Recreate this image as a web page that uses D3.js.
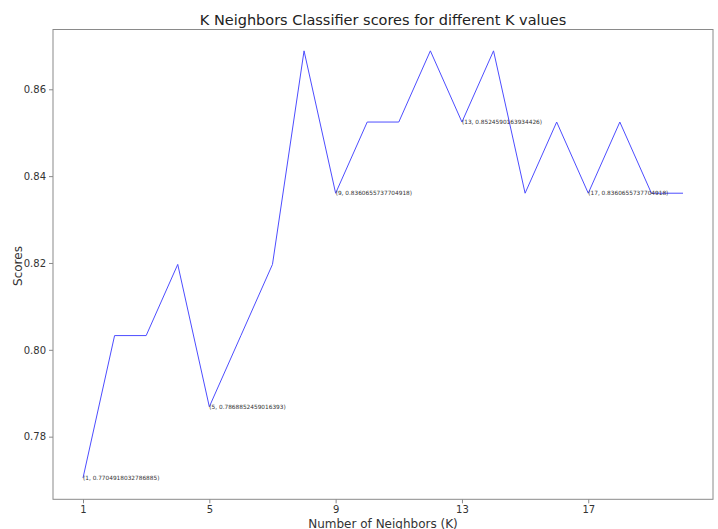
<!DOCTYPE html>
<html>
<head>
<meta charset="utf-8">
<script src="https://cdn.jsdelivr.net/npm/d3@7"></script>
<style>
  body { margin: 0; background: #fff; }
  text { font-family: "DejaVu Sans", sans-serif; }
</style>
</head>
<body>
<div id="chart"></div>
<script>
const kValues = [1, 2, 3, 4, 5, 6, 7, 8, 9, 10, 11, 12, 13, 14, 15, 16, 17, 18, 19, 20];
const scores = [0.7704918032786885, 0.8032786885245902, 0.8032786885245902, 0.819672131147541,
                0.7868852459016393, 0.8032786885245902, 0.819672131147541, 0.8688524590163934,
                0.8360655737704918, 0.8524590163934426, 0.8524590163934426, 0.8688524590163934,
                0.8524590163934426, 0.8688524590163934, 0.8360655737704918, 0.8524590163934426,
                0.8360655737704918, 0.8524590163934426, 0.8360655737704918, 0.8360655737704918];
const xTicks = [1, 5, 9, 13, 17];
const yTicks = [0.78, 0.80, 0.82, 0.84, 0.86];
const labelled = [1, 5, 9, 13, 17];

const width = 718, height = 529;
const margin = {top: 29.5, right: 5, bottom: 29.7, left: 53};

const svg = d3.select("#chart").append("svg")
    .attr("width", width)
    .attr("height", height);

// matplotlib style 5% padding on both axes
const xPad = (d3.max(kValues) - d3.min(kValues)) * 0.05;
const yPad = (d3.max(scores) - d3.min(scores)) * 0.05;

const x = d3.scaleLinear()
    .domain([d3.min(kValues) - xPad, d3.max(kValues) + xPad])
    .range([margin.left, width - margin.right]);

const y = d3.scaleLinear()
    .domain([d3.min(scores) - yPad, d3.max(scores) + yPad])
    .range([height - margin.bottom, margin.top]);

const data = kValues.map((k, i) => ({k: k, s: scores[i]}));

// frame
svg.append("rect")
    .attr("x", margin.left)
    .attr("y", margin.top)
    .attr("width", width - margin.left - margin.right)
    .attr("height", height - margin.top - margin.bottom)
    .attr("fill", "none")
    .attr("stroke", "#8a8a8a")
    .attr("stroke-width", 1);

const xAxis = svg.append("g")
    .attr("transform", `translate(0,${height - margin.bottom})`)
    .call(d3.axisBottom(x).tickValues(xTicks).tickSize(4).tickPadding(3));

const yAxis = svg.append("g")
    .attr("transform", `translate(${margin.left},0)`)
    .call(d3.axisLeft(y).tickValues(yTicks).tickFormat(d3.format(".2f")).tickSize(4).tickPadding(3));

[xAxis, yAxis].forEach(g => {
    g.select(".domain").remove();
    g.selectAll(".tick line").attr("stroke", "#8a8a8a");
    g.selectAll(".tick text")
        .attr("fill", "#333")
        .attr("font-size", "10px")
        .attr("font-family", "DejaVu Sans, sans-serif");
});

// line
svg.append("path")
    .datum(data)
    .attr("fill", "none")
    .attr("stroke", "#4d4dff")
    .attr("stroke-width", 1)
    .attr("d", d3.line().x(d => x(d.k)).y(d => y(d.s)));

// point annotations
svg.selectAll(".note")
    .data(data.filter(d => labelled.includes(d.k)))
    .enter().append("text")
    .attr("class", "note")
    .attr("x", d => x(d.k))
    .attr("y", d => y(d.s))
    .attr("dy", "0.35em")
    .attr("font-size", "5.8px")
    .attr("fill", "#333")
    .text(d => `(${d.k}, ${d.s})`);

// title and labels
svg.append("text")
    .attr("x", (margin.left + width - margin.right) / 2)
    .attr("y", 25)
    .attr("text-anchor", "middle")
    .attr("font-size", "14.5px")
    .attr("fill", "#222")
    .text("K Neighbors Classifier scores for different K values");

svg.append("text")
    .attr("x", (margin.left + width - margin.right) / 2)
    .attr("y", 527.5)
    .attr("text-anchor", "middle")
    .attr("font-size", "12px")
    .attr("fill", "#333")
    .text("Number of Neighbors (K)");

svg.append("text")
    .attr("transform", `translate(22,266) rotate(-90)`)
    .attr("text-anchor", "middle")
    .attr("font-size", "12px")
    .attr("fill", "#333")
    .text("Scores");
</script>
</body>
</html>
